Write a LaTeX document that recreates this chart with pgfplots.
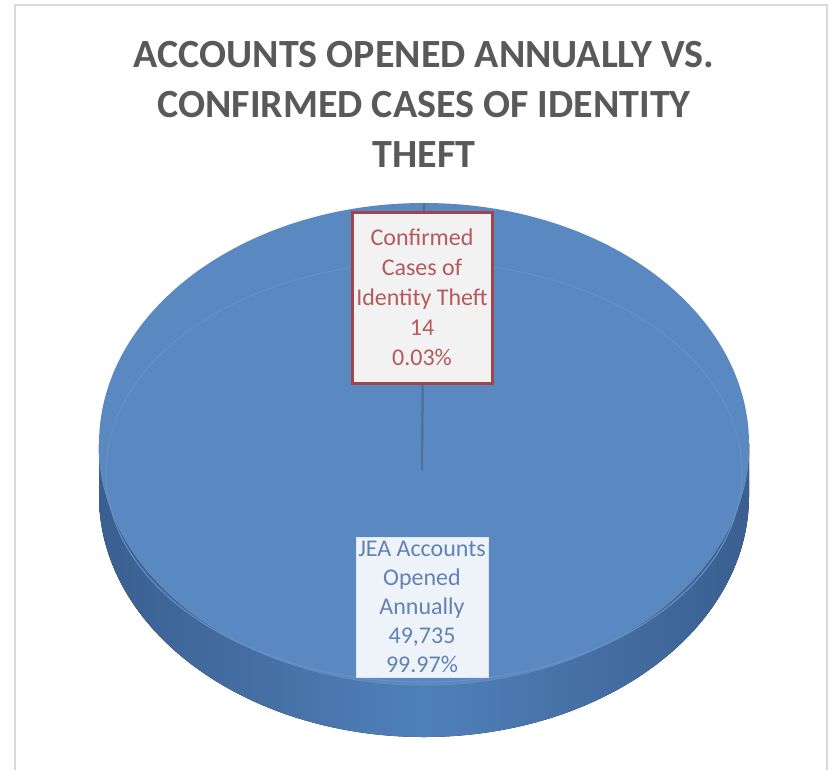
\documentclass[border=0pt]{standalone}
\usepackage{pgfplots}
\pgfplotsset{compat=1.18}
\usepackage{pgfplotstable}
\usepackage{fontspec}
\setmainfont{Carlito}
\definecolor{piecol}{HTML}{5A89C2}
\definecolor{sidedark}{HTML}{3A5F90}
\definecolor{sidemid}{HTML}{5080BA}
\definecolor{titlecol}{HTML}{595959}
\definecolor{redtxt}{HTML}{B55A5C}
\definecolor{redbrd}{HTML}{A3434B}
\definecolor{bluetxt}{HTML}{6083B4}
\pgfplotstableread{
label value
Confirmed 14
JEA 49735
}\piedata
\pgfplotstablegetelem{0}{value}\of\piedata
\let\vsmall\pgfplotsretval
\pgfplotstablegetelem{1}{value}\of\piedata
\let\vbig\pgfplotsretval
\pgfkeys{/pgf/fpu=true,/pgf/fpu/output format=fixed}
\pgfmathsetmacro{\half}{180*\vsmall/(\vsmall+\vbig)}
\pgfkeys{/pgf/fpu=false}
\pgfmathsetmacro{\aone}{90-\half}
\pgfmathsetmacro{\atwo}{90+\half}
\pgfmathsetmacro{\athree}{450-\half}
\begin{document}
\begin{tikzpicture}
\begin{axis}[
  scale only axis, width=414.5pt, height=385pt,
  xmin=0, xmax=829, ymin=0, ymax=770, y dir=reverse,
  hide axis, clip=false]
% background
\fill[white] (axis cs:0,0) rectangle (axis cs:829,770);
\draw[color=black!15, line width=1pt] (axis cs:15,770) -- (axis cs:15,5) -- (axis cs:827,5) -- (axis cs:827,770);
% title
\node[font=\fontsize{20pt}{25pt}\selectfont\bfseries, text=titlecol, align=center]
  at (axis cs:424,104) {ACCOUNTS OPENED ANNUALLY VS.\\CONFIRMED CASES OF IDENTITY\\THEFT};
% side of the pie
\fill[left color=sidedark, right color=sidedark, middle color=sidemid]
  (axis cs:99,444) arc[start angle=180, end angle=360, x radius=162.5pt, y radius=120.5pt]
  -- ++(0,-26pt)
  arc[start angle=0, end angle=-180, x radius=162.5pt, y radius=120.5pt] -- cycle;
\draw[color=sidedark!70, line width=0.5pt]
  (axis cs:99,444) arc[start angle=180, end angle=360, x radius=162.5pt, y radius=120.5pt];
% top face: slices from the data
\fill[piecol] (axis cs:422,470) -- ([shift={(\atwo:162.5pt and 120.5pt)}]axis cs:424,444)
  arc[start angle=\atwo, end angle=\athree, x radius=162.5pt, y radius=120.5pt] -- cycle;
\fill[piecol] (axis cs:422,470) -- ([shift={(\aone:162.5pt and 120.5pt)}]axis cs:424,444)
  arc[start angle=\aone, end angle=\atwo, x radius=162.5pt, y radius=120.5pt] -- cycle;
% bevel line
\draw[color=white!8!piecol, line width=0.5pt] (axis cs:424,472) ellipse[x radius=159pt, y radius=105pt];
% slice boundaries
\draw[color=sidedark!90, line width=1pt] (axis cs:422,470) -- ([shift={(\aone:162.5pt and 120.5pt)}]axis cs:424,444);
\draw[color=sidedark!90, line width=0.8pt] (axis cs:422,470) -- ([shift={(\atwo:162.5pt and 120.5pt)}]axis cs:424,444);
% data labels
\node[fill=black!5, draw=redbrd, line width=1.5pt, text=redtxt, align=center,
  minimum width=70pt, minimum height=85.5pt, inner sep=1pt,
  font=\fontsize{12pt}{15pt}\selectfont]
  at (axis cs:422,297.5) {Confirmed\\Cases of\\Identity Theft\\14\\0.03\%};
\node[fill=white!90!piecol, draw=white!80!piecol, line width=0.5pt, text=bluetxt, align=center,
  minimum width=66pt, minimum height=70pt, inner sep=1pt,
  font=\fontsize{12pt}{14.5pt}\selectfont]
  at (axis cs:422,607) {JEA Accounts\\Opened\\Annually\\49,735\\99.97\%};
\end{axis}
\end{tikzpicture}
\end{document}
